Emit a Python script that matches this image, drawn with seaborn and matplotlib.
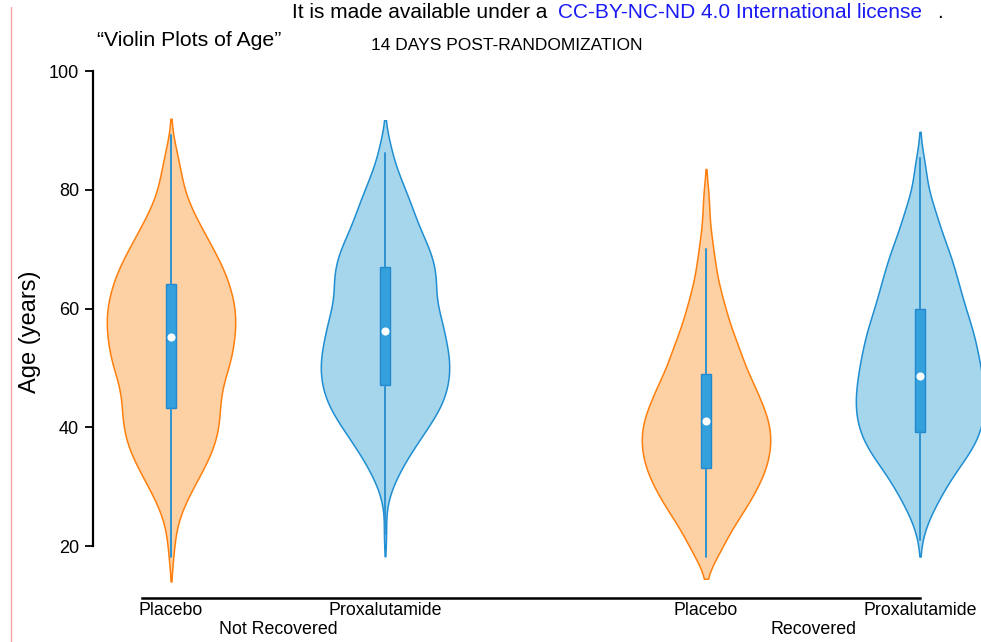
import numpy as np
import pandas as pd
import seaborn as sns
import matplotlib.pyplot as plt
from matplotlib.lines import Line2D
from matplotlib.colors import to_hex

# groups along the x axis
arms = ["Placebo", "Proxalutamide", "Placebo", "Proxalutamide"]
outcomes = ["Not Recovered", "Not Recovered", "Recovered", "Recovered"]
positions = [0, 1, 2.5, 3.5]

# age distribution (age, number of patients)
placebo_nr_ages = [18, 20, 22, 24, 26, 28, 30, 32, 34, 36, 38, 40, 42, 44, 46, 48, 50, 52,
                   54, 56, 58, 60, 62, 64, 66, 68, 70, 72, 74, 76, 78, 80, 82, 84, 86, 88]
placebo_nr_counts = [1, 1, 1, 2, 3, 5, 7, 9, 11, 13, 14, 15, 15, 15, 15, 16, 18, 19,
                     19, 20, 20, 20, 19, 18, 17, 15, 13, 11, 9, 7, 5, 4, 3, 3, 2, 1]

prox_nr_ages = [22, 28, 30, 32, 34, 36, 38, 40, 42, 44, 46, 48, 50, 52, 54, 56, 58, 60,
                62, 64, 66, 68, 70, 72, 74, 76, 78, 80, 82, 84, 86, 88]
prox_nr_counts = [1, 1, 2, 4, 6, 8, 11, 13, 16, 18, 19, 20, 20, 20, 19, 18, 18, 16,
                  15, 16, 16, 15, 14, 12, 10, 9, 8, 6, 5, 3, 2, 2]

placebo_r_ages = [18, 20, 22, 24, 26, 28, 30, 32, 34, 36, 38, 40, 42, 44, 46, 48, 50, 52,
                  54, 56, 58, 60, 62, 64, 66, 68, 70, 72, 74, 76, 78, 80]
placebo_r_counts = [4, 5, 7, 9, 12, 14, 16, 18, 19, 20, 20, 20, 19, 17, 16, 14, 12, 11,
                    10, 8, 7, 6, 5, 4, 3, 3, 2, 2, 1, 1, 1, 1]

prox_r_ages = [22, 24, 26, 28, 30, 32, 34, 36, 38, 40, 42, 44, 46, 48, 50, 52, 54, 56,
               58, 60, 62, 64, 66, 68, 70, 72, 74, 76, 78, 80, 82, 84, 86]
prox_r_counts = [1, 2, 4, 6, 8, 10, 13, 16, 18, 19, 20, 20, 20, 19, 19, 18, 17, 17,
                 15, 14, 13, 12, 11, 10, 9, 7, 6, 5, 4, 2, 2, 2, 1]

# box summaries
q1 = [43.2, 47.2, 33.2, 39.2]
medians = [55.2, 56.2, 41.1, 48.6]
q3 = [64.1, 67.0, 49.0, 59.9]
whis_lo = [18.2, 22.0, 18.2, 21.0]
whis_hi = [89.2, 86.2, 70.1, 85.3]

fill_colors = {"Placebo": "#FDD1A4", "Proxalutamide": "#A5D6EC"}
edge_colors = {"Placebo": "#FF7F0E", "Proxalutamide": "#1F8ED2"}

# build a long table of ages
all_ages = [(placebo_nr_ages, placebo_nr_counts), (prox_nr_ages, prox_nr_counts),
            (placebo_r_ages, placebo_r_counts), (prox_r_ages, prox_r_counts)]
frames = []
for (ages, counts), pos, arm in zip(all_ages, positions, arms):
    vals = np.repeat(ages, counts)
    frames.append(pd.DataFrame({"pos": pos, "arm": arm, "age": vals}))
df = pd.concat(frames, ignore_index=True)

sns.set_style("white")
plt.rcParams["font.family"] = ["Liberation Sans", "DejaVu Sans"]
plt.rcParams["text.color"] = "black"
plt.rcParams["axes.labelcolor"] = "black"
plt.rcParams["xtick.color"] = "black"
plt.rcParams["ytick.color"] = "black"

fig = plt.figure(figsize=(9.81, 6.42), dpi=100)
ax = fig.add_axes([0.0948, 0.0685, 0.9052, 0.8301])

sns.violinplot(data=df, x="pos", y="age", hue="arm", native_scale=True,
               palette=fill_colors, saturation=1, density_norm="width",
               width=0.6, inner=None, cut=1.4, bw_method=0.2, linewidth=1.1,
               legend=False, ax=ax)

# edge colours differ from the fill
fill_to_edge = {to_hex(fill_colors[k]): edge_colors[k] for k in fill_colors}
for coll in ax.collections:
    fc = to_hex(coll.get_facecolor()[0])
    if fc in fill_to_edge:
        coll.set_edgecolor(fill_to_edge[fc])
        coll.set_linewidth(1.1)

# inner boxes
stats = []
for i in range(len(positions)):
    stats.append({"med": medians[i], "q1": q1[i], "q3": q3[i],
                  "whislo": whis_lo[i], "whishi": whis_hi[i], "fliers": []})
ax.bxp(stats, positions=positions, widths=0.047, patch_artist=True,
       showfliers=False, showcaps=False, manage_ticks=False, zorder=3,
       boxprops=dict(facecolor="#34A1DD", edgecolor="#2389CF", linewidth=1),
       whiskerprops=dict(color="#2E93D1", linewidth=1.4),
       medianprops=dict(linewidth=0))
ax.scatter(positions, medians, s=34, color="white", zorder=4, linewidths=0)

# axes styling
ax.set_xlim(-0.3645, 3.785)
ax.set_ylim(11.24, 101)
ax.set_yticks([20, 40, 60, 80, 100])
ax.set_xticks(positions, arms)
ax.tick_params(axis="x", length=0, pad=3, labelsize=12.8, colors="black")
ax.tick_params(axis="y", length=6, width=1.3, pad=4, labelsize=13, left=True,
               colors="black")
ax.set_xlabel("")
ax.set_ylabel("Age (years)", fontsize=17, labelpad=6, color="black")
sns.despine(ax=ax)
ax.spines["left"].set_bounds(20, 100)
ax.spines["left"].set_linewidth(1.6)
ax.spines["left"].set_color("black")
ax.spines["bottom"].set_bounds(-0.135, 3.5)
ax.spines["bottom"].set_linewidth(1.8)
ax.spines["bottom"].set_color("black")
ax.set_facecolor("none")

# outcome group labels under the arms
for label, mid in [("Not Recovered", 0.5), ("Recovered", 3.0)]:
    ax.text(mid, -0.059, label, transform=ax.get_xaxis_transform(),
            ha="center", va="center", fontsize=12.8, color="black")

# titles and header text
fig.text(97 / 981, 1 - 40 / 642, "\u201cViolin Plots of Age\u201d", fontsize=15.3,
         va="center", color="black")
fig.text(507 / 981, 1 - 45 / 642, "14 DAYS POST-RANDOMIZATION", fontsize=12.5,
         ha="center", va="center", color="black")
fig.text(292 / 981, 1 - 12 / 642, "It is made available under a", fontsize=15,
         va="center", color="black")
fig.text(558 / 981, 1 - 12 / 642, "CC-BY-NC-ND 4.0 International license", fontsize=15,
         va="center", color="#1a1af5")
fig.text(937 / 981, 1 - 12 / 642, ".", fontsize=15, va="center", color="black")
fig.add_artist(Line2D([10.5 / 981, 10.5 / 981], [0, 1 - 7 / 642], color="#F6A3A3",
                      linewidth=1))

plt.savefig("out.png", dpi=100)
plt.close()
